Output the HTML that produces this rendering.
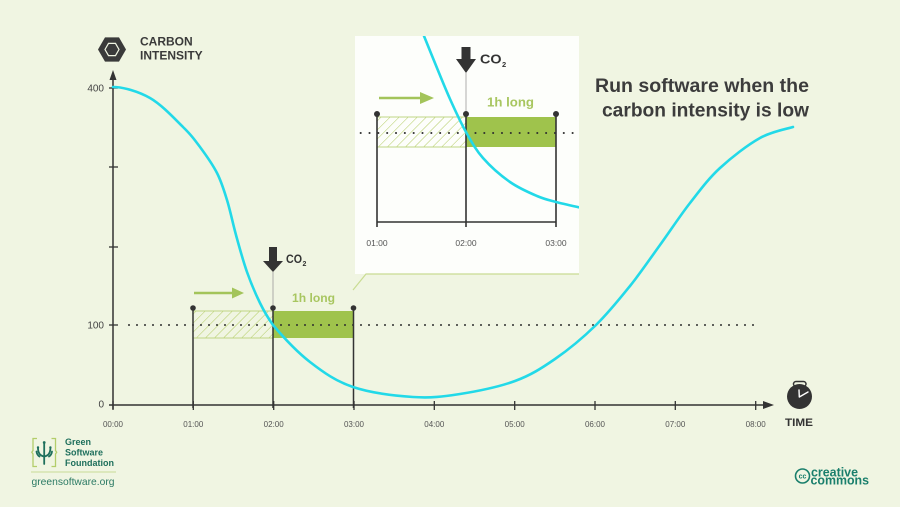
<!DOCTYPE html>
<html><head><meta charset="utf-8">
<style>
html,body{margin:0;padding:0;background:#f0f5e2;}
svg{display:block;font-family:"Liberation Sans",sans-serif;}
</style></head><body>
<svg width="900" height="507" viewBox="0 0 900 507" xmlns="http://www.w3.org/2000/svg">
<defs>
<pattern id="h" width="6.4" height="6.4" patternUnits="userSpaceOnUse" patternTransform="rotate(45)">
<line x1="0" y1="-1" x2="0" y2="8" stroke="#b2cb62" stroke-width="1"/>
</pattern>
<clipPath id="ic"><rect x="355" y="36" width="224" height="238"/></clipPath>
</defs>
<rect width="900" height="507" fill="#f0f5e2"/>

<polygon points="98,49.5 105,37.4 119,37.4 126,49.5 119,61.6 105,61.6" fill="#3a3a3a"/>
<polygon points="105,49.5 108.5,43.4 115.5,43.4 119,49.5 115.5,55.6 108.5,55.6" fill="none" stroke="#f0f5e2" stroke-width="1.2"/>
<text x="140" y="45.5" font-size="12" font-weight="bold" fill="#3a3a3a">CARBON</text>
<text x="140" y="59.5" font-size="12" font-weight="bold" fill="#3a3a3a">INTENSITY</text>

<text x="809" y="92" font-size="19" font-weight="bold" fill="#3c3c3c" text-anchor="end" textLength="214" lengthAdjust="spacingAndGlyphs">Run software when the</text>
<text x="809" y="116.5" font-size="19" font-weight="bold" fill="#3c3c3c" text-anchor="end" textLength="207" lengthAdjust="spacingAndGlyphs">carbon intensity is low</text>

<line x1="113" y1="76" x2="113" y2="409" stroke="#333" stroke-width="1.5"/>
<polygon points="113,70 109.5,80 116.5,80" fill="#333"/>
<line x1="109" y1="405" x2="766" y2="405" stroke="#333" stroke-width="1.5"/>
<polygon points="774,405 763,401 763,409" fill="#333"/>
<g stroke="#333" stroke-width="1.3">
<line x1="109" y1="88" x2="118" y2="88"/>
<line x1="109" y1="167" x2="118" y2="167"/>
<line x1="109" y1="247" x2="118" y2="247"/>
<line x1="109" y1="325" x2="118" y2="325"/>
<line x1="113" y1="401" x2="113" y2="410"/>
<line x1="193.3" y1="401" x2="193.3" y2="410"/>
<line x1="273.7" y1="401" x2="273.7" y2="410"/>
<line x1="354" y1="401" x2="354" y2="410"/>
<line x1="434.3" y1="401" x2="434.3" y2="410"/>
<line x1="514.7" y1="401" x2="514.7" y2="410"/>
<line x1="595" y1="401" x2="595" y2="410"/>
<line x1="675.3" y1="401" x2="675.3" y2="410"/>
<line x1="755.7" y1="401" x2="755.7" y2="410"/>
</g>
<g font-size="10" fill="#444" text-anchor="end">
<text x="104" y="91.5">400</text>
<text x="104" y="328.5">100</text>
<text x="104" y="407.5">0</text>
</g>
<g font-size="8" fill="#555" text-anchor="middle">
<text x="113" y="427">00:00</text>
<text x="193.3" y="427">01:00</text>
<text x="273.7" y="427">02:00</text>
<text x="354" y="427">03:00</text>
<text x="434.3" y="427">04:00</text>
<text x="514.7" y="427">05:00</text>
<text x="595" y="427">06:00</text>
<text x="675.3" y="427">07:00</text>
<text x="755.7" y="427">08:00</text>
</g>

<rect x="193" y="311" width="80" height="27" fill="url(#h)" stroke="#bfd584" stroke-width="1"/>
<rect x="273" y="311" width="80.5" height="27" fill="#9fc34c"/>
<line x1="129" y1="325" x2="754" y2="325" stroke="#2f2f2f" stroke-width="2" stroke-dasharray="0 8" stroke-linecap="round"/>

<line x1="273" y1="272" x2="273" y2="308" stroke="#9a9a9a" stroke-width="0.8"/>
<g stroke="#333" stroke-width="1.5">
<line x1="193" y1="308" x2="193" y2="408"/>
<line x1="273" y1="308" x2="273" y2="408"/>
<line x1="353.5" y1="308" x2="353.5" y2="408"/>
</g>
<g fill="#333">
<circle cx="193" cy="308" r="2.8"/>
<circle cx="273" cy="308" r="2.8"/>
<circle cx="353.5" cy="308" r="2.8"/>
</g>

<rect x="269" y="247" width="8" height="15" fill="#333"/>
<polygon points="263,261 283,261 273,272" fill="#333"/>
<text x="286" y="263" font-size="12" font-weight="bold" fill="#333" textLength="16" lengthAdjust="spacingAndGlyphs">CO</text>
<text x="302.5" y="266" font-size="7" font-weight="bold" fill="#333">2</text>

<line x1="194" y1="293" x2="234" y2="293" stroke="#a3c45a" stroke-width="2.5"/>
<polygon points="232,287.5 244,293 232,298.5" fill="#a3c45a"/>
<text x="292" y="302" font-size="12" font-weight="bold" fill="#a8c660" textLength="43" lengthAdjust="spacingAndGlyphs">1h long</text>

<path d="M113,87 C123,87 138.3,91.3 150,98 C161.7,104.7 174.7,118.8 183,127 C191.3,135.2 194.3,139.3 200,147 C205.7,154.7 212.5,164.2 217,173 C221.5,181.8 223.8,189.7 227,200 C230.2,210.3 232.7,223 236,235 C239.3,247 243,260.7 247,272 C251,283.3 255.7,294.2 260,303 C264.3,311.8 266.7,316.2 273,325 C281.3,334.8 296.7,351.7 310,362 C323.3,372.3 335.8,381.2 353,387 C370.2,392.8 395.2,395.8 413,397 C430.8,398.2 443,396.7 460,394 C477,391.3 499.2,386.8 515,381 C530.8,375.2 541.5,368.3 555,359 C568.5,349.7 583.5,337.2 596,325 C608.5,312.8 619.3,299.3 630,286 C640.7,272.7 650,258.8 660,245 C670,231.2 680,215.8 690,203 C700,190.2 708.3,178.8 720,168 C731.7,157.2 747.8,144.8 760,138 C772.2,131.2 787.5,128.8 793,127" fill="none" stroke="#22d9e8" stroke-width="2.6" stroke-linecap="round"/>

<rect x="355" y="36" width="224" height="238" fill="#fdfefb"/>
<polyline points="353,290 366,274 579,274" fill="none" stroke="#c9dc92" stroke-width="1.2"/>

<rect x="377" y="117" width="89" height="30" fill="url(#h)" stroke="#bfd584" stroke-width="1"/>
<rect x="466" y="117" width="90" height="30" fill="#9fc34c"/>
<line x1="360.7" y1="133" x2="573" y2="133" stroke="#2f2f2f" stroke-width="2.1" stroke-dasharray="0 8.83" stroke-linecap="round"/>

<line x1="466" y1="73" x2="466" y2="114" stroke="#9a9a9a" stroke-width="0.8"/>
<g stroke="#333" stroke-width="1.6">
<line x1="377" y1="114" x2="377" y2="227"/>
<line x1="466" y1="114" x2="466" y2="227"/>
<line x1="556" y1="114" x2="556" y2="227"/>
<line x1="377" y1="222" x2="556" y2="222"/>
</g>
<g fill="#333">
<circle cx="377" cy="114" r="3"/>
<circle cx="466" cy="114" r="3"/>
<circle cx="556" cy="114" r="3"/>
</g>
<g font-size="8.5" fill="#555" text-anchor="middle">
<text x="377" y="246">01:00</text>
<text x="466" y="246">02:00</text>
<text x="556" y="246">03:00</text>
</g>

<rect x="461.5" y="47" width="9" height="13" fill="#333"/>
<polygon points="456,59 476,59 466,73" fill="#333"/>
<text x="480" y="63.5" font-size="13" font-weight="bold" fill="#333" textLength="21.5" lengthAdjust="spacingAndGlyphs">CO</text>
<text x="502" y="67" font-size="7.5" font-weight="bold" fill="#333">2</text>

<line x1="379" y1="98" x2="422" y2="98" stroke="#a3c45a" stroke-width="2.6"/>
<polygon points="420,92 434,98 420,104" fill="#a3c45a"/>
<text x="487" y="106.5" font-size="13" font-weight="bold" fill="#a8c660" textLength="47" lengthAdjust="spacingAndGlyphs">1h long</text>

<path clip-path="url(#ic)" d="M414,12 C415.7,16 420.2,26.7 424,36 C427.8,45.3 432.7,57.5 437,68 C441.3,78.5 445.2,88.3 450,99 C454.8,109.7 460.5,122.2 466,132 C471.5,141.8 475.7,149.7 483,158 C490.3,166.3 501,175.7 510,182 C519,188.3 529.3,192.7 537,196 C544.7,199.3 548.5,200 556,202 C563.5,204 577.7,207 582,208" fill="none" stroke="#22d9e8" stroke-width="2.6"/>

<rect x="793.5" y="381.5" width="12.5" height="5" rx="2.5" fill="none" stroke="#333" stroke-width="1.5"/>
<rect x="797.5" y="386" width="4" height="3" fill="#333"/>
<circle cx="799.5" cy="396.5" r="12.5" fill="#333"/>
<polyline points="799,390 799.3,397 808,392" fill="none" stroke="#fff" stroke-width="1.4" stroke-linecap="round" stroke-linejoin="round"/>
<text x="785" y="426" font-size="11" font-weight="bold" fill="#333" textLength="28" lengthAdjust="spacingAndGlyphs">TIME</text>

<circle cx="802.5" cy="476" r="7" fill="none" stroke="#1a7f6c" stroke-width="1.6"/>
<text x="802.5" y="478.5" font-size="7" font-weight="bold" fill="#1a7f6c" text-anchor="middle">cc</text>
<text x="811" y="476.5" font-size="13" font-weight="bold" fill="#1a7f6c" textLength="47" lengthAdjust="spacingAndGlyphs">creative</text>
<text x="810.5" y="484.3" font-size="13" font-weight="bold" fill="#1a7f6c" textLength="58.5" lengthAdjust="spacingAndGlyphs">commons</text>

<path d="M37,438.5 H33 V450.5 L31.8,452.3 L33,454 V466.5 H37" fill="none" stroke="#b3cd6a" stroke-width="1.3"/>
<path d="M51.5,438.5 H55.5 V450.5 L56.7,452.3 L55.5,454 V466.5 H51.5" fill="none" stroke="#b3cd6a" stroke-width="1.3"/>
<g fill="none" stroke="#1e6f5c" stroke-width="1.8" stroke-linecap="round">
<line x1="44.2" y1="443" x2="44.2" y2="464"/>
<path d="M38,448 Q38,455.5 44.2,456.5 Q50.4,455.5 50.4,448"/>
<path d="M36.5,451.5 Q37,455 39.5,456.5"/>
<path d="M52,451.5 Q51.5,455 49,456.5"/>
</g>
<circle cx="44.2" cy="442.5" r="1.4" fill="#1e6f5c"/>
<circle cx="38" cy="447.5" r="1.2" fill="#1e6f5c"/>
<circle cx="50.4" cy="447.5" r="1.2" fill="#1e6f5c"/>
<g font-size="9" font-weight="bold" fill="#1e6f5c">
<text x="65" y="445">Green</text>
<text x="65" y="455.7">Software</text>
<text x="65" y="466">Foundation</text>
</g>
<line x1="31" y1="472" x2="116" y2="472" stroke="#c8db95" stroke-width="1"/>
<text x="31.5" y="485" font-size="10.2" fill="#2b7a64" textLength="83" lengthAdjust="spacingAndGlyphs">greensoftware.org</text>
</svg>
</body></html>
